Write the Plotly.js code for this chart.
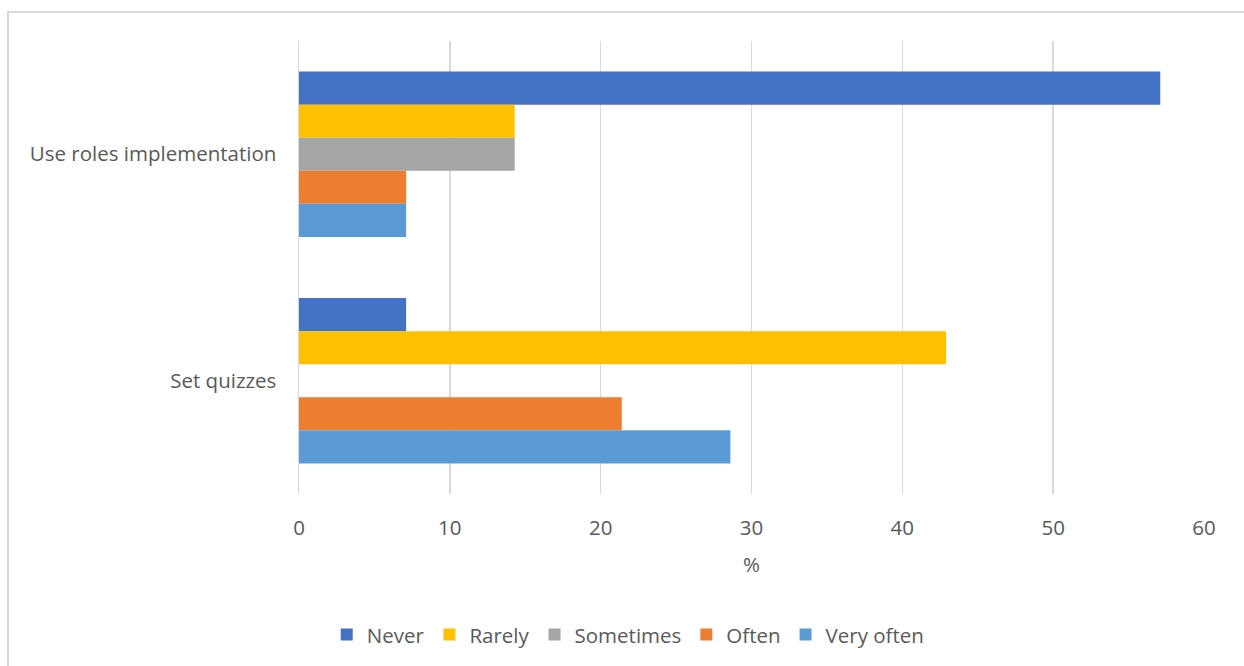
<!DOCTYPE html>
<html>
<head>
<meta charset="utf-8">
<script src="https://cdn.plot.ly/plotly-3.0.1.min.js"></script>
<style>
  html, body { margin: 0; padding: 0; background: #fff; }
  #frame { position: absolute; left: 7px; top: 11px; width: 1250px; height: 670px; border-left: 2px solid #d9d9d9; border-top: 2px solid #d9d9d9; }
  #chart { position: absolute; left: 0; top: 0; width: 1244px; height: 666px; }
</style>
</head>
<body>
<div id="frame"></div>
<div id="chart"></div>
<script>
const categories = ["Use roles implementation", "Set quizzes"];
const seriesNames = ["Never", "Rarely", "Sometimes", "Often", "Very often"];
const never = [57.1, 7.1];
const rarely = [14.3, 42.9];
const sometimes = [14.3, 0];
const often = [7.1, 21.4];
const veryOften = [7.1, 28.6];
const colors = ["#4472C4", "#FFC000", "#A5A5A5", "#ED7D31", "#5B9BD5"];
const xTicks = [0, 10, 20, 30, 40, 50, 60];

const values = [never, rarely, sometimes, often, veryOften];
const traces = seriesNames.map((name, i) => ({
  type: "bar",
  orientation: "h",
  name: name,
  y: categories,
  x: values[i],
  marker: { color: colors[i] },
  hoverinfo: "x+name"
}));

const font = "'Open Sans', 'Noto Sans', 'Liberation Sans', sans-serif";
const txt = { family: font, size: 20.5, color: "#595959" };
const layout = {
  width: 1244,
  height: 666,
  paper_bgcolor: "rgba(0,0,0,0)",
  plot_bgcolor: "rgba(0,0,0,0)",
  margin: { l: 299, r: 40, t: 41, b: 172, autoexpand: false },
  barmode: "group",
  bargap: 0.27,
  bargroupgap: 0,
  font: txt,
  xaxis: {
    range: [0, 60],
    tickvals: xTicks,
    showgrid: true,
    gridcolor: "#d9d9d9",
    gridwidth: 1.5,
    zeroline: false,
    showline: false,
    ticks: "",
    ticklabelstandoff: 19,
    tickfont: txt,
    automargin: false,
    title: { text: "%", font: txt, standoff: 18 }
  },
  yaxis: {
    autorange: "reversed",
    type: "category",
    showgrid: false,
    zeroline: false,
    showline: true,
    linecolor: "#d9d9d9",
    linewidth: 1.5,
    ticks: "",
    automargin: false,
    ticklabelstandoff: 17,
    tickfont: txt
  },
  legend: {
    orientation: "h",
    x: 0.505,
    xref: "container",
    xanchor: "center",
    y: 0.047,
    yref: "container",
    yanchor: "middle",
    font: txt,
    traceorder: "normal",
    itemwidth: 30
  },
  showlegend: true
};

Plotly.newPlot("chart", traces, layout, { displayModeBar: false, staticPlot: true });
</script>
</body>
</html>
